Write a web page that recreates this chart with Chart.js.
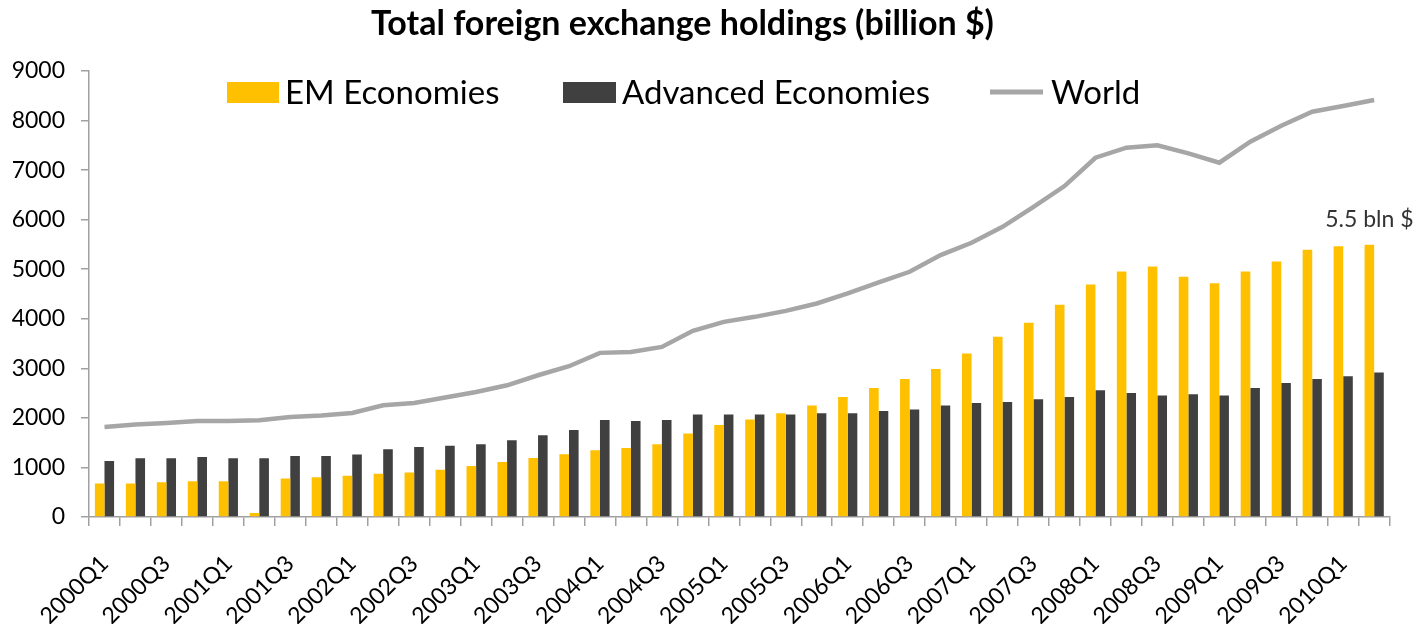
<!DOCTYPE html>
<html>
<head>
<meta charset="utf-8">
<script src="https://cdn.jsdelivr.net/npm/chart.js@4/dist/chart.umd.min.js"></script>
<style>
  html, body { margin: 0; padding: 0; background: #ffffff; }
  #wrap { position: relative; width: 1418px; height: 624px; }
  #c { position: absolute; left: 0; top: 0; }
  #title { position: absolute; left: 0; top: 1px; width: 1365px; text-align: center; line-height: 42px;
           font: bold 34px Lato, "Open Sans", sans-serif; color: #000; }
</style>
</head>
<body>
<div id="wrap">
  <canvas id="c" width="1418" height="624"></canvas>
  <div id="title">Total foreign exchange holdings (billion $)</div>
</div>
<script>
const quarters = [
  '2000Q1','2000Q2','2000Q3','2000Q4','2001Q1','2001Q2','2001Q3','2001Q4',
  '2002Q1','2002Q2','2002Q3','2002Q4','2003Q1','2003Q2','2003Q3','2003Q4',
  '2004Q1','2004Q2','2004Q3','2004Q4','2005Q1','2005Q2','2005Q3','2005Q4',
  '2006Q1','2006Q2','2006Q3','2006Q4','2007Q1','2007Q2','2007Q3','2007Q4',
  '2008Q1','2008Q2','2008Q3','2008Q4','2009Q1','2009Q2','2009Q3','2009Q4',
  '2010Q1','2010Q2'
];
const emValues = [
  675, 675, 700, 720, 720, 80, 775, 800, 830, 875, 900, 955, 1030,
  1111, 1192, 1266, 1347, 1394, 1468, 1684, 1858, 1967, 2094, 2249, 2423, 2605, 2787, 2989,
  3299, 3635, 3918, 4281, 4693, 4955, 5056, 4846, 4719, 4955, 5157, 5392, 5466, 5493
];
const advancedValues = [
  1130, 1185, 1185, 1210, 1185, 1185, 1232, 1232, 1260, 1367, 1413, 1440, 1468,
  1549, 1650, 1757, 1959, 1939, 1959, 2068, 2068, 2068, 2068, 2094, 2094, 2141, 2169, 2249,
  2302, 2322, 2377, 2423, 2558, 2504, 2450, 2477, 2450, 2605, 2706, 2787, 2841, 2915
];
const worldValues = [
  1817, 1865, 1898, 1938, 1938, 1952, 2019, 2047, 2100, 2255, 2302, 2410, 2524,
  2658, 2860, 3043, 3312, 3332, 3433, 3756, 3938, 4039, 4160, 4309, 4511, 4733, 4948, 5285,
  5533, 5856, 6259, 6678, 7250, 7452, 7500, 7338, 7149, 7573, 7896, 8178, 8293, 8414
];
const yTicks = [0, 1000, 2000, 3000, 4000, 5000, 6000, 7000, 8000, 9000];
const seriesNames = ['EM Economies', 'Advanced Economies', 'World'];
const annotationText = '5.5 bln $';

const FONT = 'Lato, "Open Sans", sans-serif';
const AXIS = '#A0A0A0';

const decor = {
  id: 'decor',
  afterDraw(chart) {
    const ctx = chart.ctx;
    const ds = chart.data.datasets;
    ctx.save();
    // legend (inside plot area)
    ctx.font = '33px ' + FONT;
    ctx.textBaseline = 'middle';
    ctx.textAlign = 'left';
    const ly = 93;
    ctx.fillStyle = ds[0].backgroundColor;
    ctx.fillRect(227, 82, 52, 21);
    ctx.fillStyle = '#000';
    ctx.fillText(ds[0].label, 285, ly);
    ctx.fillStyle = ds[1].backgroundColor;
    ctx.fillRect(563, 82, 53, 21);
    ctx.fillStyle = '#000';
    ctx.fillText(ds[1].label, 622, ly);
    ctx.strokeStyle = ds[2].borderColor;
    ctx.lineWidth = 5;
    ctx.beginPath();
    ctx.moveTo(990, 92); ctx.lineTo(1043, 92);
    ctx.stroke();
    ctx.fillText(ds[2].label, 1051, ly);
    // annotation above last EM bar
    const meta = chart.getDatasetMeta(0);
    const bar = meta.data[meta.data.length - 1];
    ctx.font = '23px ' + FONT;
    ctx.fillStyle = '#333';
    ctx.textAlign = 'center';
    ctx.textBaseline = 'alphabetic';
    ctx.fillText(annotationText, bar.x, bar.y - 18);
    ctx.restore();
  }
};

new Chart(document.getElementById('c'), {
  type: 'bar',
  data: {
    labels: quarters,
    datasets: [
      { type: 'bar', label: seriesNames[0], data: emValues, backgroundColor: '#FFC000',
        categoryPercentage: 0.62, barPercentage: 1.0, order: 2 },
      { type: 'bar', label: seriesNames[1], data: advancedValues, backgroundColor: '#404040',
        categoryPercentage: 0.62, barPercentage: 1.0, order: 2 },
      { type: 'line', label: seriesNames[2], data: worldValues, borderColor: '#A6A6A6',
        borderWidth: 4.5, pointRadius: 0, tension: 0, fill: false, order: 1 }
    ]
  },
  options: {
    responsive: false,
    animation: false,
    layout: { padding: { left: 0, right: 26, top: 71, bottom: 0 } },
    plugins: {
      legend: { display: false },
      title: { display: false },
      tooltip: { enabled: false }
    },
    scales: {
      x: {
        offset: true,
        grid: { offset: true, drawOnChartArea: false, drawTicks: true, tickLength: 9, color: AXIS, lineWidth: 1.5 },
        border: { color: AXIS, width: 1.5 },
        ticks: {
          autoSkip: false, maxRotation: 45, minRotation: 45, padding: 24,
          color: '#000', font: { family: FONT, size: 23 },
          callback(v, i) { return i % 2 === 0 ? this.getLabelForValue(v) : ''; }
        },
        afterFit(s) { s.height = 107; }
      },
      y: {
        min: 0, max: 9000,
        afterBuildTicks(s) { s.ticks = yTicks.map(v => ({ value: v })); },
        grid: { drawOnChartArea: false, drawTicks: true, tickLength: 8, color: AXIS, lineWidth: 1.5 },
        border: { color: AXIS, width: 1.5 },
        ticks: { padding: 16, color: '#000', font: { family: FONT, size: 23 },
                 callback(v) { return String(v); } },
        afterFit(s) { s.width = 89; }
      }
    }
  },
  plugins: [decor]
});
</script>
</body>
</html>
